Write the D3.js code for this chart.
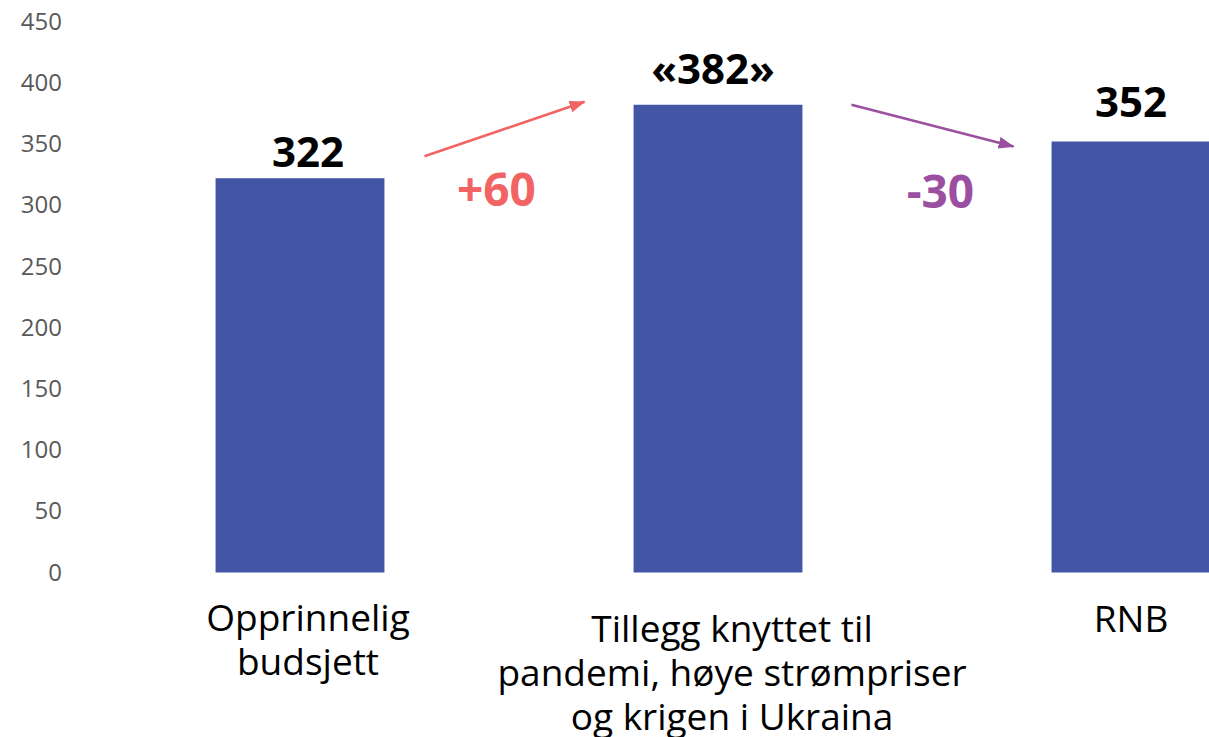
<!DOCTYPE html>
<html>
<head>
<meta charset="utf-8">
<script src="https://cdn.jsdelivr.net/npm/d3@7"></script>
<style>
  body { margin: 0; background: #fff; }
  svg { display: block; font-family: "Open Sans", "Noto Sans", sans-serif; }
</style>
</head>
<body>
<script>
// chart data
var categories = ["Opprinnelig budsjett", "Tillegg knyttet til pandemi, høye strømpriser og krigen i Ukraina", "RNB"];
var values = [322, 382, 352];
var valueLabels = ["322", "«382»", "352"];
var labelLines = [
  ["Opprinnelig", "budsjett"],
  ["Tillegg knyttet til", "pandemi, høye strømpriser", "og krigen i Ukraina"],
  ["RNB"]
];
var yTicks = [0, 50, 100, 150, 200, 250, 300, 350, 400, 450];
var changes = ["+60", "-30"];

var width = 1209,
    height = 737;

var svg = d3.select("body")
            .append("svg")
            .attr("width", width)
            .attr("height", height);

var x = d3.scaleBand()
          .domain(categories)
          .range([91, 1345])
          .paddingInner(0.596)
          .paddingOuter(0.298);

var y = d3.scaleLinear()
          .domain([0, 450])
          .range([572.5, 21.5]);

// y axis, no line, grey labels
var yAxis = svg.append("g")
    .attr("transform", "translate(62,0)")
    .call(d3.axisLeft(y).tickValues(yTicks).tickSize(0).tickPadding(0));
yAxis.select(".domain").remove();
yAxis.selectAll("text")
    .attr("font-family", "'Open Sans', sans-serif")
    .attr("font-size", 24)
    .attr("fill", "#595959");

// bars
svg.append("g")
  .selectAll("rect")
    .data(values)
  .enter().append("rect")
    .attr("x", function(d, i) { return x(categories[i]); })
    .attr("y", function(d) { return y(d); })
    .attr("width", x.bandwidth())
    .attr("height", function(d) { return y(0) - y(d); })
    .attr("fill", "#4356a6");

// value labels above bars
var valueGap = [11, 21, 24];
svg.append("g")
  .selectAll("text")
    .data(values)
  .enter().append("text")
    .attr("x", function(d, i) { return x(categories[i]) + x.bandwidth() / 2 + [8, -5, -5][i]; })
    .attr("y", function(d, i) { return y(d) - valueGap[i]; })
    .attr("text-anchor", "middle")
    .attr("font-size", 42)
    .attr("font-weight", "bold")
    .attr("fill", "#000")
    .text(function(d, i) { return valueLabels[i]; });

// category labels
var labelShift = [8, 14, -5];
var labelTop = [631, 642, 632];
var cat = svg.append("g")
  .selectAll("text")
    .data(labelLines)
  .enter().append("text")
    .attr("text-anchor", "middle")
    .attr("font-size", 37)
    .attr("fill", "#000")
    .attr("transform", function(d, i) {
      return "translate(" + (x(categories[i]) + x.bandwidth() / 2 + labelShift[i]) + "," + labelTop[i] + ")";
    });
cat.selectAll("tspan")
    .data(function(d) { return d; })
  .enter().append("tspan")
    .attr("x", 0)
    .attr("y", function(d, j) { return j * 44; })
    .text(function(d) { return d; });

// arrows between bars
var arrowColors = ["#f26464", "#9b4fa0"];
var defs = svg.append("defs");
arrowColors.forEach(function(c, i) {
  defs.append("marker")
      .attr("id", "arrow" + i)
      .attr("markerUnits", "userSpaceOnUse")
      .attr("viewBox", "0 0 16 12")
      .attr("refX", 15)
      .attr("refY", 6)
      .attr("markerWidth", 16)
      .attr("markerHeight", 12)
      .attr("orient", "auto")
    .append("path")
      .attr("d", "M0,0 L16,6 L0,12 Z")
      .attr("fill", c);
});

var arrows = [
  { x1: x(categories[0]) + x.bandwidth() + 40, y1: y(values[0]) - 22,
    x2: x(categories[1]) - 49, y2: y(values[1]) - 3 },
  { x1: x(categories[1]) + x.bandwidth() + 49, y1: y(values[1]),
    x2: x(categories[2]) - 38, y2: y(values[2]) + 5 }
];

svg.append("g")
  .selectAll("line")
    .data(arrows)
  .enter().append("line")
    .attr("x1", function(d) { return d.x1; })
    .attr("y1", function(d) { return d.y1; })
    .attr("x2", function(d) { return d.x2; })
    .attr("y2", function(d) { return d.y2; })
    .attr("stroke", function(d, i) { return arrowColors[i]; })
    .attr("stroke-width", 2.5)
    .attr("marker-end", function(d, i) { return "url(#arrow" + i + ")"; });

// change labels (+60 / -30)
svg.append("g")
  .selectAll("text")
    .data(changes)
  .enter().append("text")
    .attr("x", function(d, i) { return x(categories[i]) + x.bandwidth() + [112, 138][i]; })
    .attr("y", function(d, i) { return [206, 208][i]; })
    .attr("text-anchor", "middle")
    .attr("font-size", 46)
    .attr("font-weight", "bold")
    .attr("fill", function(d, i) { return arrowColors[i]; })
    .text(function(d) { return d; });
</script>
</body>
</html>
